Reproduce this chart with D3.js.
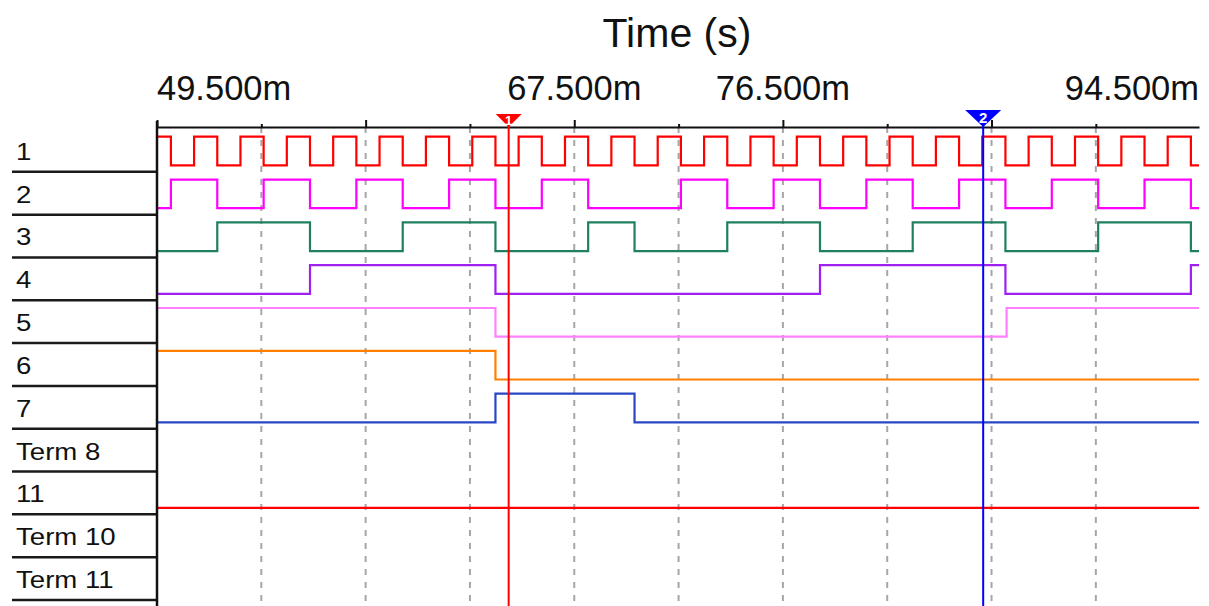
<!DOCTYPE html>
<html>
<head>
<meta charset="utf-8">
<script src="https://cdn.jsdelivr.net/npm/d3@7/dist/d3.min.js"></script>
<style>
  html, body { margin: 0; padding: 0; background: #ffffff; }
  svg { display: block; }
  text { font-family: "Liberation Sans", Arial, sans-serif; }
</style>
</head>
<body>
<script>
// ---------------- DATA ----------------
const rowLabels = ["1", "2", "3", "4", "5", "6", "7", "Term 8", "11", "Term 10", "Term 11"];

// axis (time in ms)
const timeStart = 49.5;
const timeEnd = 94.45;
const majorTicks = [49.5, 58.5, 67.5, 76.5, 85.5];
const minorTicks = [54, 63, 72, 81, 90];
const tickLabelValues = [49.5, 67.5, 76.5, 94.5];
const axisTitle = "Time (s)";

// traces: row they sit in, starting level, and edge times (ms) where level toggles
const traceRows = ["1", "2", "3", "4", "5", "6", "7", "11"];
const traceStart = [1, 0, 0, 0, 1, 1, 0, 0];
const traceColors = ["#ff0000", "#ff00ff", "#1f8060", "#a020f0", "#ff80ff", "#ff8000", "#2a46c4", "#ff0000"];

const sig1 = [50.1, 51.1, 52.1, 53.1, 54.1, 55.1, 56.1, 57.1, 58.1, 59.1, 60.1, 61.1, 62.1, 63.1,
              64.1, 65.1, 66.1, 67.1, 68.1, 69.1, 70.1, 71.1, 72.1, 73.1, 74.1, 75.1, 76.1, 77.1,
              78.1, 79.1, 80.1, 81.1, 82.1, 83.1, 84.1, 85.1, 86.1, 87.1, 88.1, 89.1, 90.1, 91.1,
              92.1, 93.1, 94.1];
const sig2 = [50.1, 52.1, 54.1, 56.1, 58.1, 60.1, 62.1, 64.1, 66.1, 68.1, 72.1, 74.1, 76.1,
              78.1, 80.1, 82.1, 84.1, 86.1, 88.1, 90.1, 92.1, 94.1];
const sig3 = [52.1, 56.1, 60.1, 64.1, 68.1, 70.1, 74.1, 78.1, 82.1, 86.1, 90.1, 94.1];
const sig4 = [56.1, 64.1, 78.1, 86.1, 94.1];
const sig5 = [64.1, 86.15];
const sig6 = [64.1];
const sig7 = [64.1, 70.1];
const sig11 = [];
const traceEdges = [sig1, sig2, sig3, sig4, sig5, sig6, sig7, sig11];

// cursors
const cursorTimes = [64.67, 85.14];
const cursorNames = ["1", "2"];
const cursorColors = ["#ff0000", "#0000ff"];

// ---------------- CHART ----------------
const W = 1209, H = 606;
const svg = d3.select("body").append("svg").attr("width", W).attr("height", H);

const x = d3.scaleLinear().domain([timeStart, timeEnd]).range([157, 1199]);
const y = d3.scaleBand().domain(rowLabels).range([129, 600]);
const bw = y.bandwidth();
const lvl = d3.scaleLinear().domain([0, 1]).range([0.85 * bw, 0.18 * bw]);
const axisY = 127;

// gridlines
const gridVals = majorTicks.concat(minorTicks).filter(v => v > timeStart).sort(d3.ascending);
svg.append("g").selectAll("line").data(gridVals).join("line")
  .attr("x1", d => x(d)).attr("x2", d => x(d))
  .attr("y1", axisY).attr("y2", H)
  .attr("stroke", "#a6a6a6").attr("stroke-width", 2).attr("stroke-dasharray", "6,7");

// traces
traceRows.forEach((row, i) => {
  let v = traceStart[i];
  const pts = [[timeStart, v]];
  traceEdges[i].forEach(t => { v = 1 - v; pts.push([t, v]); });
  pts.push([timeEnd, v]);
  const line = d3.line()
    .x(d => x(d[0]))
    .y(d => y(row) + lvl(d[1]))
    .curve(d3.curveStepAfter);
  svg.append("path").datum(pts)
    .attr("d", line)
    .attr("fill", "none")
    .attr("stroke", traceColors[i])
    .attr("stroke-width", 2.2);
});

// row separators and labels
svg.append("g").selectAll("line").data(rowLabels).join("line")
  .attr("x1", 12).attr("x2", 157)
  .attr("y1", d => y(d) + bw).attr("y2", d => y(d) + bw)
  .attr("stroke", "#1a1a1a").attr("stroke-width", 2.5);

svg.append("g").selectAll("text").data(rowLabels).join("text")
  .attr("transform", d => `translate(16,${y(d) + bw - 12}) scale(1.2,1)`)
  .attr("font-size", 23)
  .attr("fill", "#111")
  .text(d => d);

// left border
svg.append("line").attr("x1", 157).attr("x2", 157).attr("y1", 121).attr("y2", H)
  .attr("stroke", "#111").attr("stroke-width", 2.5);

// axis
const gMajor = svg.append("g").attr("transform", `translate(0,${axisY})`)
  .call(d3.axisTop(x).tickValues(majorTicks).tickSize(7).tickSizeOuter(0).tickFormat(""));
const gMinor = svg.append("g").attr("transform", `translate(0,${axisY})`)
  .call(d3.axisTop(x).tickValues(minorTicks).tickSize(3).tickSizeOuter(0).tickFormat(""));
gMinor.select(".domain").remove();
[gMajor, gMinor].forEach(g => {
  g.selectAll("path,line").attr("stroke", "#111").attr("stroke-width", 2);
});

// tick labels
const [r0, r1] = x.range();
svg.append("g").selectAll("text").data(tickLabelValues).join("text")
  .attr("x", d => Math.max(r0, Math.min(r1, x(d))))
  .attr("y", 100)
  .attr("text-anchor", d => x(d) <= r0 ? "start" : (x(d) >= r1 ? "end" : "middle"))
  .attr("font-size", 34.5)
  .attr("fill", "#111")
  .text(d => d3.format(".3f")(d) + "m");

// title
svg.append("text").attr("x", 677).attr("y", 47).attr("text-anchor", "middle")
  .attr("font-size", 41).attr("fill", "#111").text(axisTitle);

// cursors
const markerSize = [{w: 13, top: 114, fs: 13}, {w: 18, top: 110, fs: 15}];
cursorTimes.forEach((t, i) => {
  const cx = x(t);
  const m = markerSize[i];
  svg.append("line").attr("x1", cx).attr("x2", cx).attr("y1", m.top).attr("y2", H)
    .attr("stroke", cursorColors[i]).attr("stroke-width", 2);
  svg.append("path")
    .attr("d", `M${cx - m.w},${m.top}L${cx + m.w},${m.top}L${cx},${axisY}Z`)
    .attr("fill", cursorColors[i]);
  svg.append("text").attr("x", cx).attr("y", m.top + m.fs * 0.85)
    .attr("text-anchor", "middle").attr("font-size", m.fs).attr("font-weight", "bold")
    .attr("fill", "#fff").text(cursorNames[i]);
});
</script>
</body>
</html>
